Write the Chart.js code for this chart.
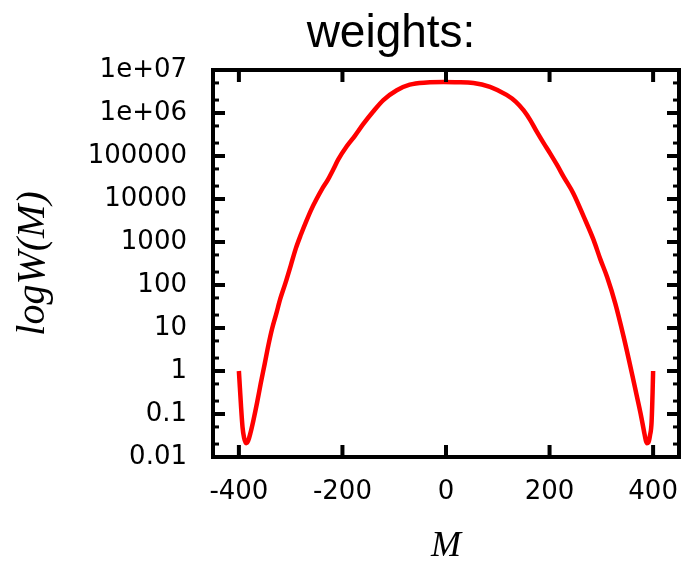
<!DOCTYPE html>
<html>
<head>
<meta charset="utf-8">
<script src="https://cdn.jsdelivr.net/npm/chart.js@4.4.1/dist/chart.umd.min.js"></script>
<style>
  html, body { margin: 0; padding: 0; background: #fff; }
  #wrap { width: 683px; height: 561px; }
</style>
</head>
<body>
<div id="wrap"><canvas id="chart" width="683" height="561"></canvas></div>
<script>
/* ====== Data ====== */
const chartTitle = "weights:";
const xTitle = "M";
const yTitle = "logW(M)";

// magnetisation M and weight W(M)
const mValues = [
  -400, -399, -398, -396, -393, -390, -386, -382, -378, -372,
  -365, -358, -350, -343, -336, -328, -320, -310, -300, -290,
  -280, -270, -260, -250, -240, -228, -218, -208, -192, -176,
  -160, -141, -121, -95, -70, -37, -5, 20, 53, 85,
  117, 135, 150, 163, 175, 188, 201, 215, 227, 246,
  266, 285, 298, 311, 327, 343, 359, 368, 376, 382,
  386, 388, 391, 394, 397, 399, 400
];
const weights = [
  1, 0.63, 0.4, 0.16, 0.05, 0.028, 0.021, 0.024, 0.035, 0.071,
  0.18, 0.5, 1.5, 4, 9.5, 21, 48, 112, 280, 710,
  1510, 3020, 5750, 10000, 16600, 28200, 47900, 83200, 166000, 295000,
  550000, 1070000, 2000000, 3390000, 4570000, 5130000, 5250000, 5190000, 5010000, 4070000,
  2630000, 1820000, 1150000, 676000, 372000, 204000, 115000, 60300, 33100, 13500,
  3890, 1120, 400, 155, 37, 6.3, 0.89, 0.28, 0.1, 0.042,
  0.024, 0.021, 0.022, 0.032, 0.063, 0.32, 1
];

const xTicks = [-400, -200, 0, 200, 400];
const yTicks = [0.01, 0.1, 1, 10, 100, 1000, 10000, 100000, 1e6, 1e7];
const yTickLabels = ["0.01", "0.1", "1", "10", "100", "1000", "10000", "100000", "1e+06", "1e+07"];

/* ====== Frame, inward ticks and title ====== */
const framePlugin = {
  id: "frame",
  afterDraw(chart) {
    const { ctx, chartArea: a, scales: { x, y } } = chart;
    const seg = (x1, y1, x2, y2) => {
      ctx.beginPath(); ctx.moveTo(x1, y1); ctx.lineTo(x2, y2); ctx.stroke();
    };
    ctx.save();
    ctx.strokeStyle = "#000";
    ctx.lineCap = "butt";

    ctx.lineWidth = 4;
    xTicks.forEach(v => {
      const px = x.getPixelForValue(v);
      seg(px, a.bottom, px, a.bottom - 12);
      seg(px, a.top, px, a.top + 12);
    });
    yTicks.forEach(v => {
      const py = y.getPixelForValue(v);
      seg(a.left, py, a.left + 12, py);
      seg(a.right, py, a.right - 12, py);
    });

    ctx.lineWidth = 3;
    yTicks.slice(0, -1).forEach(v => {
      [2 * v, 5 * v].forEach(m => {
        const py = y.getPixelForValue(m);
        seg(a.left, py, a.left + 6, py);
        seg(a.right, py, a.right - 6, py);
      });
    });

    ctx.lineWidth = 4;
    ctx.strokeRect(a.left, a.top, a.right - a.left, a.bottom - a.top);

    ctx.fillStyle = "#000";
    ctx.font = '46px "Liberation Sans"';
    ctx.textAlign = "center";
    ctx.textBaseline = "alphabetic";
    ctx.fillText(chartTitle, 391, 47);
    ctx.restore();
  }
};

// no label overhang padding, the frame has fixed edges
const noPad = s => { s.paddingLeft = 0; s.paddingRight = 0; s.paddingTop = 0; s.paddingBottom = 0; };

/* ====== Chart ====== */
const tickFont = { family: "DejaVu Sans", size: 26 };

new Chart(document.getElementById("chart"), {
  type: "line",
  data: {
    datasets: [{
      data: mValues.map((m, i) => ({ x: m, y: weights[i] })),
      borderColor: "#ff0000",
      borderWidth: 4.5,
      pointRadius: 0,
      fill: false,
      cubicInterpolationMode: "monotone"
    }]
  },
  options: {
    responsive: false,
    animation: false,
    devicePixelRatio: 1,
    layout: { padding: { top: 70, right: 4, left: 0, bottom: 0 } },
    plugins: { legend: { display: false }, tooltip: { enabled: false } },
    scales: {
      x: {
        type: "linear",
        min: -450,
        max: 450,
        afterBuildTicks: s => { s.ticks = xTicks.map(v => ({ value: v })); },
        afterFit: s => { s.height = 104; noPad(s); },
        grid: { display: false, drawTicks: false },
        border: { display: false },
        ticks: { color: "#000", font: tickFont, padding: 20, maxRotation: 0 },
        title: {
          display: true,
          text: xTitle,
          color: "#000",
          font: { family: "Liberation Serif", style: "italic", size: 36, lineHeight: 0.8 },
          padding: { top: 0, bottom: 0 }
        }
      },
      y: {
        type: "logarithmic",
        min: 0.01,
        max: 1e7,
        afterBuildTicks: s => { s.ticks = yTicks.map(v => ({ value: v })); },
        afterFit: s => { s.width = 213; noPad(s); },
        grid: { display: false, drawTicks: false },
        border: { display: false },
        ticks: {
          color: "#000",
          font: tickFont,
          padding: 26,
          callback: (v) => {
            const i = yTicks.findIndex(t => Math.abs(Math.log10(t) - Math.log10(v)) < 1e-6);
            return i >= 0 ? yTickLabels[i] : "";
          }
        },
        title: {
          display: true,
          text: yTitle,
          color: "#000",
          font: { family: "Liberation Serif", style: "italic", size: 40, lineHeight: 1.2 },
          padding: { top: 9, bottom: 0 }
        }
      }
    }
  },
  plugins: [framePlugin]
});
</script>
</body>
</html>
